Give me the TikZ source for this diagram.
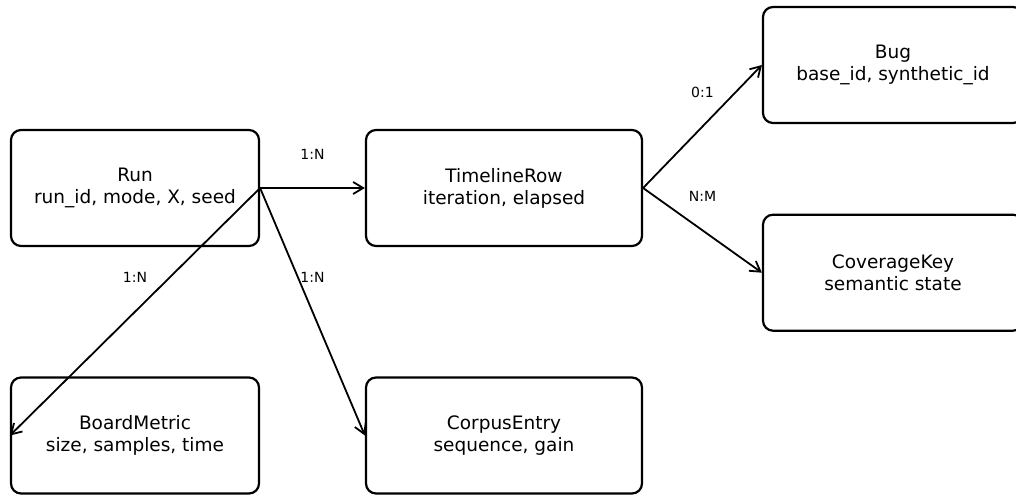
\documentclass[tikz,border=0pt]{standalone}
\usepackage{fontspec}
\setmainfont{DejaVu Sans}
\usetikzlibrary{arrows.meta, positioning}

\begin{document}
\begin{tikzpicture}[
    entity/.style={
        rectangle,
        draw,
        line width=2.2pt,
        rounded corners=10pt,
        minimum height=116pt,
        align=center,
        font=\fontsize{18.5}{22}\selectfont
    },
    card/.style={midway, yshift=34pt, font=\fontsize{14}{16}\selectfont},
    link/.style={->, line width=1.8pt},
    >={Straight Barb[length=10pt, width=12pt]}
]
\clip (0,0) rectangle (1016pt,-495pt);

\node[entity, minimum width=248pt] (run) at (135pt,-188pt) {Run\\run\_id, mode, X, seed};
\node[entity, minimum width=276pt, right=104.8pt of run] (timeline) {TimelineRow\\iteration, elapsed};
\node[entity, minimum width=248pt, below=129.3pt of run] (boardmetric) {BoardMetric\\size, samples, time};
\node[entity, minimum width=276pt, below=129.3pt of timeline] (corpus) {CorpusEntry\\sequence, gain};
\node[entity, minimum width=260pt, right=118.8pt of timeline, yshift=123pt] (bug) {Bug\\base\_id, synthetic\_id};
\node[entity, minimum width=260pt, below=89.5pt of bug] (coverage) {CoverageKey\\semantic state};

\draw[link] (run.east) -- node[card] {1:N} (timeline.west);
\draw[link] (run.east) -- node[card] {1:N} (boardmetric.west);
\draw[link] (run.east) -- node[card] {1:N} (corpus.west);
\draw[link] (timeline.east) -- node[card] {0:1} (bug.west);
\draw[link] (timeline.east) -- node[card] {N:M} (coverage.west);

\end{tikzpicture}
\end{document}
